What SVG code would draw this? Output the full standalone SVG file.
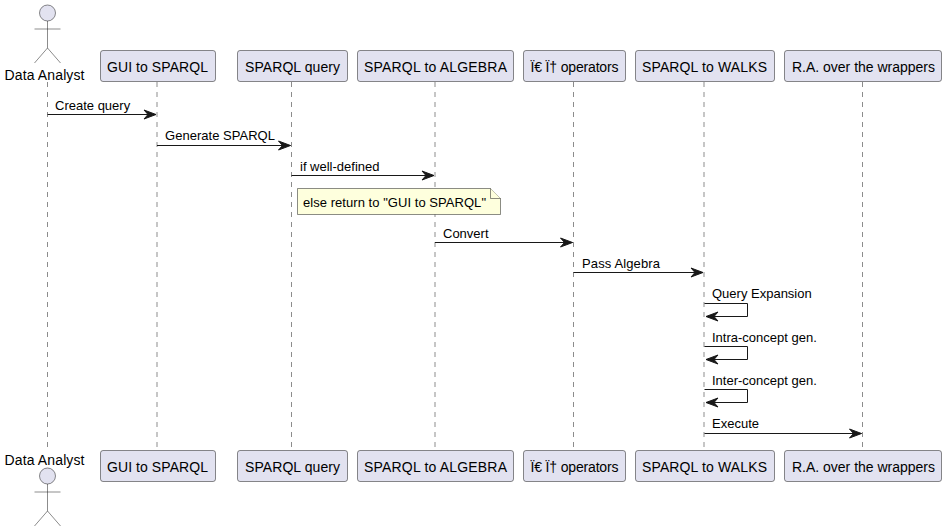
<svg xmlns="http://www.w3.org/2000/svg" width="946" height="532" viewBox="0 0 946 532">
<style>
text{font-family:"Liberation Sans",Arial,sans-serif;fill:#000}
.p{font-size:14px;text-anchor:middle}
.m{font-size:13px}
.box{fill:#E2E2F0;stroke:#181818;stroke-width:.5}
.life{stroke:#181818;stroke-width:.5;stroke-dasharray:5 5;fill:none}
.act{fill:#E2E2F0;stroke:#181818;stroke-width:.5}
.msg{stroke:#181818;stroke-width:1;fill:none}
.head{fill:#181818;stroke:#181818;stroke-width:1}
.note{fill:#FEFFDD;stroke:#181818;stroke-width:.5}
</style>
<defs>
<marker id="ah" markerUnits="userSpaceOnUse" markerWidth="16" markerHeight="12" refX="12.500" refY="5" orient="auto" overflow="visible">
<path class="head" d="M0.500,0.500 L12.500,5 L0.500,9.500 L4.500,5 Z"/>
</marker>
<g id="stick"><circle class="act" cx="0" cy="0" r="8"/><path class="act" style="fill:none" d="M0,8V35M-13,16H13M0,35L-13,50M0,35L13,50"/></g>
</defs>
<g id="lifelines">
<path class="life" d="M47.5,82V450"/>
<path class="life" d="M157,82V450"/>
<path class="life" d="M291.5,82V450"/>
<path class="life" d="M435,82V450"/>
<path class="life" d="M573.5,82V450"/>
<path class="life" d="M704,82V450"/>
<path class="life" d="M862.5,82V450"/>
</g>
<g id="connectors">
<path class="msg" marker-end="url(#ah)" d="M47.5,114.500H156"/>
<path class="msg" marker-end="url(#ah)" d="M157,145.500H290.500"/>
<path class="msg" marker-end="url(#ah)" d="M291.500,175.500H434"/>
<path class="msg" marker-end="url(#ah)" d="M435,242.500H572.500"/>
<path class="msg" marker-end="url(#ah)" d="M573.500,272.500H703"/>
<path class="msg" marker-end="url(#ah)" d="M704.500,303.500H747.500V316.500H706"/>
<path class="msg" marker-end="url(#ah)" d="M704.500,346.500H747.500V359.500H706"/>
<path class="msg" marker-end="url(#ah)" d="M704.500,389.500H747.500V402.500H706"/>
<path class="msg" marker-end="url(#ah)" d="M704.500,433.500H861.500"/>
<text class="m" x="55" y="110">Create query</text>
<text class="m" x="165" y="140" textLength="110">Generate SPARQL</text>
<text class="m" x="300" y="171">if well-defined</text>
<text class="m" x="443" y="238">Convert</text>
<text class="m" x="582" y="268" textLength="78">Pass Algebra</text>
<text class="m" x="712" y="298">Query Expansion</text>
<text class="m" x="712" y="342">Intra-concept gen.</text>
<text class="m" x="712" y="385">Inter-concept gen.</text>
<text class="m" x="712" y="428">Execute</text>
</g>
<g id="note">
<path class="note" d="M297.500,188.500H490.500L500.500,198.500V214.500H297.500Z"/>
<path class="note" d="M490.500,188.500V198.500H500.500"/>
<text class="m" x="303" y="207" textLength="183">else return to "GUI to SPARQL"</text>
</g>
<g id="actor-top"><use href="#stick" x="47.500" y="13"/><text class="p" x="44.500" y="80" textLength="80">Data Analyst</text></g>
<g id="p1-top"><rect class="box" x="100.500" y="50.500" width="115" height="31" rx="2.500"/><text class="p" x="157.500" y="72" textLength="101">GUI to SPARQL</text></g>
<g id="p2-top"><rect class="box" x="237.500" y="50.500" width="110" height="31" rx="2.500"/><text class="p" x="292.500" y="72" textLength="95">SPARQL query</text></g>
<g id="p3-top"><rect class="box" x="357.500" y="50.500" width="156" height="31" rx="2.500"/><text class="p" x="435.500" y="72" textLength="143">SPARQL to ALGEBRA</text></g>
<g id="p4-top"><rect class="box" x="523.500" y="50.500" width="102" height="31" rx="2.500"/><text class="p" x="574.500" y="72" textLength="88">Ï€ Ï† operators</text></g>
<g id="p5-top"><rect class="box" x="635.500" y="50.500" width="139" height="31" rx="2.500"/><text class="p" x="704.500" y="72" textLength="125">SPARQL to WALKS</text></g>
<g id="p6-top"><rect class="box" x="784.500" y="50.500" width="157" height="31" rx="2.500"/><text class="p" x="863.500" y="72" textLength="143">R.A. over the wrappers</text></g>
<g id="actor-bottom"><text class="p" x="44.500" y="465" textLength="80">Data Analyst</text><use href="#stick" x="47.500" y="476"/></g>
<g id="p1-bottom"><rect class="box" x="100.500" y="450.500" width="115" height="31" rx="2.500"/><text class="p" x="157.500" y="472" textLength="101">GUI to SPARQL</text></g>
<g id="p2-bottom"><rect class="box" x="237.500" y="450.500" width="110" height="31" rx="2.500"/><text class="p" x="292.500" y="472" textLength="95">SPARQL query</text></g>
<g id="p3-bottom"><rect class="box" x="357.500" y="450.500" width="156" height="31" rx="2.500"/><text class="p" x="435.500" y="472" textLength="143">SPARQL to ALGEBRA</text></g>
<g id="p4-bottom"><rect class="box" x="523.500" y="450.500" width="102" height="31" rx="2.500"/><text class="p" x="574.500" y="472" textLength="88">Ï€ Ï† operators</text></g>
<g id="p5-bottom"><rect class="box" x="635.500" y="450.500" width="139" height="31" rx="2.500"/><text class="p" x="704.500" y="472" textLength="125">SPARQL to WALKS</text></g>
<g id="p6-bottom"><rect class="box" x="784.500" y="450.500" width="157" height="31" rx="2.500"/><text class="p" x="863.500" y="472" textLength="143">R.A. over the wrappers</text></g>
</svg>
